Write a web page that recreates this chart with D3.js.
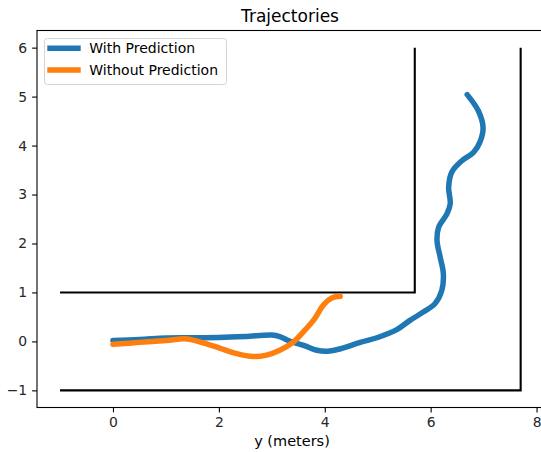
<!DOCTYPE html>
<html>
<head>
<meta charset="utf-8">
<script src="https://cdn.jsdelivr.net/npm/d3@7"></script>
<style>
  html, body { margin: 0; padding: 0; background: #fff; }
  svg { display: block; font-family: "DejaVu Sans", sans-serif; }
</style>
</head>
<body>
<div id="chart"></div>
<script>
// ---- Data ----
const seriesNames = ["With Prediction", "Without Prediction"];
const seriesColors = ["#1f77b4", "#ff7f0e"];

const withX = [0, 0.5, 1.0, 1.4, 2.0, 2.5, 3.0, 3.15, 3.35, 3.6, 3.85, 4.05, 4.3, 4.67, 5.0, 5.36, 5.61, 5.86, 6.08, 6.21, 6.24, 6.18, 6.12, 6.15, 6.31, 6.37, 6.34, 6.40, 6.59, 6.81, 6.93, 6.99, 6.90, 6.69];
const withY = [0.02, 0.04, 0.07, 0.075, 0.08, 0.10, 0.13, 0.10, 0.0, -0.08, -0.18, -0.20, -0.15, -0.02, 0.08, 0.24, 0.43, 0.60, 0.77, 1.04, 1.38, 1.72, 2.06, 2.33, 2.61, 2.81, 3.15, 3.46, 3.69, 3.86, 4.07, 4.37, 4.71, 5.04];

const withoutX = [0, 0.5, 1.0, 1.4, 1.7, 2.0, 2.3, 2.66, 2.9, 3.15, 3.4, 3.6, 3.8, 3.98, 4.14, 4.29];
const withoutY = [-0.06, -0.02, 0.02, 0.05, -0.03, -0.13, -0.24, -0.31, -0.28, -0.18, -0.02, 0.2, 0.45, 0.75, 0.89, 0.92];

// walls: polylines
const innerWallX = [-1, 5.7, 5.7];
const innerWallY = [1, 1, 6];
const outerWallX = [-1, 7.7, 7.7];
const outerWallY = [-1, -1, 6];

const xTicks = [0, 2, 4, 6, 8];
const yTicks = [-1, 0, 1, 2, 3, 4, 5, 6];
const titleText = "Trajectories";
const xLabel = "y (meters)";

// ---- Layout ----
const W = 541, H = 452;
const mLeft = 37, mRight = 543.7, mTop = 30.5, mBottom = 407.5;

const x = d3.scaleLinear().domain([-1.435, 8.135]).range([mLeft, mRight]);
const y = d3.scaleLinear().domain([-1.35, 6.35]).range([mBottom, mTop]);

const svg = d3.select("#chart").append("svg").attr("width", W).attr("height", H);

const zip = (xs, ys) => xs.map((v, i) => [v, ys[i]]);

const plot = svg.append("g");

// walls
const lineLin = d3.line().x(d => x(d[0])).y(d => y(d[1]));
[[innerWallX, innerWallY], [outerWallX, outerWallY]].forEach(([xs, ys]) => {
  plot.append("path").attr("d", lineLin(zip(xs, ys)))
    .attr("fill", "none").attr("stroke", "#000").attr("stroke-width", 2.1)
    .attr("stroke-linejoin", "miter");
});

// trajectories
const lineSmooth = d3.line().x(d => x(d[0])).y(d => y(d[1])).curve(d3.curveCatmullRom.alpha(0.5));
const series = [zip(withX, withY), zip(withoutX, withoutY)];
series.forEach((pts, i) => {
  plot.append("path").attr("d", lineSmooth(pts))
    .attr("fill", "none").attr("stroke", seriesColors[i]).attr("stroke-width", 5.5)
    .attr("stroke-linejoin", "round").attr("stroke-linecap", "round");
});

// axes
const xAxis = d3.axisBottom(x).tickValues(xTicks).tickSize(4.9).tickPadding(4.9).tickFormat(d3.format("d"));
const yAxis = d3.axisLeft(y).tickValues(yTicks).tickSize(4.9).tickPadding(4.9).tickFormat(d => d < 0 ? "\u2212" + Math.abs(d) : d);

const gx = svg.append("g").attr("transform", `translate(0,${mBottom})`).call(xAxis);
const gy = svg.append("g").attr("transform", `translate(${mLeft},0)`).call(yAxis);
[gx, gy].forEach(g => {
  g.select(".domain").remove();
  g.selectAll(".tick line").attr("stroke", "#000").attr("stroke-width", 1.1);
  g.selectAll(".tick text").attr("fill", "#262626").style("font-size", "13.9px").style("font-family", "DejaVu Sans, sans-serif");
});

// spines (right spine lies beyond the visible area)
svg.append("rect").attr("x", mLeft).attr("y", mTop).attr("width", mRight - mLeft).attr("height", mBottom - mTop)
  .attr("fill", "none").attr("stroke", "#000").attr("stroke-width", 1.1);

// title and label
svg.append("text").attr("x", 290).attr("y", 21.5).attr("text-anchor", "middle")
  .style("font-size", "17px").attr("fill", "#000").text(titleText);
svg.append("text").attr("x", 292).attr("y", 445.5).attr("text-anchor", "middle")
  .style("font-size", "14.5px").attr("fill", "#000").text(xLabel);

// legend
const lg = svg.append("g");
lg.append("rect").attr("x", 44.5).attr("y", 38.5).attr("width", 182).attr("height", 46)
  .attr("rx", 3).attr("fill", "#fff").attr("fill-opacity", 0.8).attr("stroke", "#d4d4d4").attr("stroke-width", 1);
seriesNames.forEach((name, i) => {
  const yy = 48.3 + i * 21.7;
  lg.append("line").attr("x1", 47.3).attr("x2", 80.7).attr("y1", yy).attr("y2", yy)
    .attr("stroke", seriesColors[i]).attr("stroke-width", 5.5);
  lg.append("text").attr("x", 89.3).attr("y", yy).attr("dy", "0.35em")
    .style("font-size", "14px").attr("fill", "#000").text(name);
});
</script>
</body>
</html>
